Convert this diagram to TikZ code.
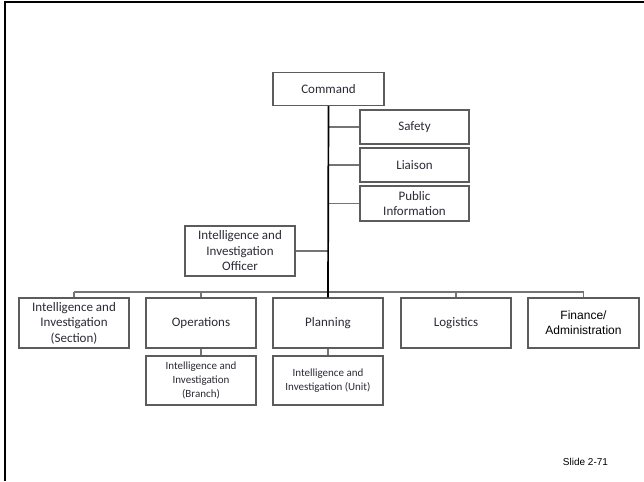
\documentclass[tikz,border=0pt]{standalone}
\usepackage{fontspec}
\newfontfamily\calfont{Carlito}
\newfontfamily\arialfont{Liberation Sans}
\definecolor{boxline}{HTML}{5C5C5C}
\definecolor{linkgray}{HTML}{747474}
\definecolor{labeltext}{HTML}{2A2B36}
\begin{document}
\begin{tikzpicture}[x=1pt,y=-1pt,
  orgbox/.style={draw=boxline, line width=1.2pt, fill=white, align=center,
    minimum width=110pt, inner sep=1pt, text=labeltext,
    font=\calfont\fontsize{13}{15.5}\selectfont},
  subbox/.style={orgbox, font=\calfont\fontsize{11}{14}\selectfont},
  link/.style={draw=linkgray, line width=1.2pt},
  trunk/.style={draw=black, line width=1.7pt}]
\useasboundingbox (0,0) rectangle (644,481);
% slide frame (top and left edges)
\draw[line width=2.5pt] (5,481) -- (5,2) -- (644,2);

% command and staff
\node[orgbox, minimum width=111pt, minimum height=33pt] (cmd) at (328.5,89) {Command};
\node[orgbox, minimum width=109pt, minimum height=34pt] (safety) at (414.5,127) {Safety};
\node[orgbox, minimum width=109pt, minimum height=34pt] (liaison) at (414.5,165) {Liaison};
\node[orgbox, minimum width=109pt, minimum height=35pt] (pio) at (414.5,203.5) {Public\\Information};
\node[orgbox, minimum height=50pt] (iio) at (240,251) {Intelligence and\\Investigation\\Officer};

% general staff sections
\node[orgbox, minimum height=50pt] (iis) at (74,323) {Intelligence and\\Investigation\\(Section)};
\node[orgbox, minimum height=50pt] (ops) at (201,323) {Operations};
\node[orgbox, minimum height=50pt] (plan) at (328,323) {Planning};
\node[orgbox, minimum height=50pt] (log) at (456,323) {Logistics};
\node[orgbox, minimum width=111pt, minimum height=50pt,
  font=\arialfont\fontsize{12}{15}\selectfont, text=black] (fin) at (583.5,323) {Finance/\\Administration};

% units under sections
\node[subbox, minimum height=49pt] (iib) at (201,380.5) {Intelligence and\\Investigation\\(Branch)};
\node[subbox, minimum height=49pt] (iiu) at (328,380.5) {Intelligence and\\Investigation (Unit)};

% junctions on the command trunk
\coordinate (jsafety) at (cmd.south |- safety.west);
\coordinate (jliaison) at (cmd.south |- liaison.west);
\coordinate (jpio) at (cmd.south |- pio.west);
\coordinate (jiio) at (cmd.south |- iio.east);
\coordinate (busL) at (74,292);
\coordinate (busR) at (583.5,292);

% connectors
\draw[link] (jsafety) -- (safety.west);
\draw[link] (jliaison) -- (liaison.west);
\draw[link] (jpio) -- (pio.west);
\draw[link] (iio.east) -- (jiio);
\draw[link] (busL) -- (busR);
\draw[link] (busL) -- (iis.north);
\draw[link] (ops.north |- busL) -- (ops.north);
\draw[link] (log.north |- busL) -- (log.north);
\draw[link] (busR) -- (fin.north);
\draw[link] (ops.south) -- (iib.north);
\draw[link] (plan.south) -- (iiu.north);
\draw[trunk] (cmd.south) -- (plan.north);

\node[font=\arialfont\fontsize{10}{12}\selectfont, text=black] (slide) at (585.5,462) {Slide 2-71};
\end{tikzpicture}
\end{document}
